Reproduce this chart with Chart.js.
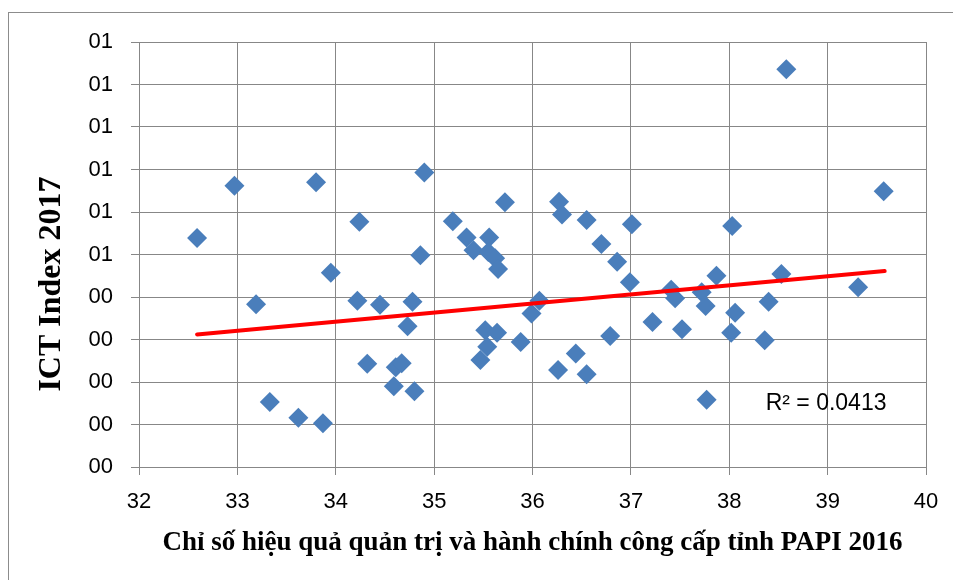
<!DOCTYPE html>
<html>
<head>
<meta charset="utf-8">
<script src="https://cdn.jsdelivr.net/npm/chart.js@4/dist/chart.umd.min.js"></script>
<style>
    body { margin: 0; background: #fff; }
    .frame {
        position: absolute; left: 8px; top: 12px; width: 1000px; height: 1000px;
        border-left: 1px solid #8c8c8c; border-top: 1px solid #8c8c8c;
    }
    #chart { position: absolute; left: 0; top: 0; }
</style>
</head>
<body>
<div class="frame"></div>
<canvas id="chart" width="953" height="580"></canvas>
<script>
// PAPI 2016 score per province (x)
const papi2016 = [
    32.59, 32.97, 33.19, 33.33, 33.62, 33.80, 33.87, 33.95, 34.22, 34.24,
    34.32, 34.45, 34.59, 34.61, 34.67, 34.73, 34.78, 34.80, 34.86, 34.90,
    35.19, 35.33, 35.40, 35.47, 35.54, 35.52, 35.64, 35.56, 35.55, 35.62,
    35.65, 35.72, 35.88, 35.99, 36.07, 36.26, 36.27, 36.30, 36.44, 36.55,
    36.55, 36.70, 36.79, 36.86, 36.99, 37.01, 37.22, 37.41, 37.45, 37.52,
    37.72, 37.76, 37.77, 37.87, 38.03, 38.02, 38.06, 38.36, 38.40, 38.53,
    38.58, 39.31, 39.57
];
// ICT Index 2017 per province (y)
const ict2017 = [
    0.539, 0.662, 0.383, 0.153, 0.116, 0.670, 0.103, 0.457, 0.391, 0.577,
    0.243, 0.382, 0.190, 0.235, 0.244, 0.331, 0.389, 0.178, 0.498, 0.693,
    0.578, 0.540, 0.510, 0.252, 0.283, 0.322, 0.316, 0.540, 0.506, 0.491,
    0.466, 0.623, 0.294, 0.361, 0.391, 0.228, 0.624, 0.594, 0.267, 0.581,
    0.218, 0.525, 0.308, 0.483, 0.435, 0.571, 0.341, 0.417, 0.397, 0.324,
    0.411, 0.379, 0.158, 0.450, 0.567, 0.316, 0.363, 0.298, 0.389, 0.454,
    0.936, 0.423, 0.649
];
// linear trendline ends as drawn
const trendX = [32.59, 39.58];
const trendY = [0.312, 0.461];
const rSquared = 'R² = 0.0413';

const yTickLabels = ['00', '00', '00', '00', '00', '01', '01', '01', '01', '01', '01'];

const points = papi2016.map((x, i) => ({ x: x, y: ict2017[i] }));
const trend = trendX.map((x, i) => ({ x: x, y: trendY[i] }));

const gridColor = '#878787';

// R² text next to the trendline + the y title (Excel centres it on the whole chart, not the axis)
const extraText = {
    id: 'extraText',
    afterDatasetsDraw(chart) {
        const ctx = chart.ctx;
        const xs = chart.scales.x, ys = chart.scales.y;
        ctx.save();
        ctx.font = '23px "Liberation Sans", Arial, sans-serif';
        ctx.fillStyle = '#000';
        ctx.textAlign = 'left';
        ctx.textBaseline = 'middle';
        ctx.fillText(rSquared, xs.getPixelForValue(38.37), ys.getPixelForValue(0.15));

        ctx.translate(52, 284);
        ctx.rotate(-Math.PI / 2);
        ctx.font = 'bold 32px "Liberation Serif", "Times New Roman", serif';
        ctx.textAlign = 'center';
        ctx.fillText('ICT Index 2017', 0, 0);
        ctx.restore();
    }
};

new Chart(document.getElementById('chart'), {
    type: 'scatter',
    data: {
        datasets: [
            {
                label: 'ICT',
                data: points,
                pointStyle: 'rectRot',
                pointRadius: 10,
                pointBorderWidth: 0,
                backgroundColor: '#4a7ebb',
                borderColor: '#4a7ebb',
                order: 2
            },
            {
                label: 'Trend',
                type: 'line',
                data: trend,
                borderColor: '#ff0000',
                borderWidth: 4,
                borderCapStyle: 'round',
                pointRadius: 0,
                fill: false,
                order: 1
            }
        ]
    },
    options: {
        responsive: false,
        animation: false,
        layout: { padding: { left: 0, top: 42, right: 27, bottom: 0 } },
        plugins: { legend: { display: false }, tooltip: { enabled: false } },
        scales: {
            x: {
                type: 'linear',
                min: 32, max: 40,
                afterFit: s => { s.height = 113; },
                ticks: {
                    stepSize: 1,
                    padding: 14,
                    color: '#000',
                    font: { family: '"Liberation Sans", Arial, sans-serif', size: 22 }
                },
                grid: { color: gridColor, tickLength: 8, lineWidth: 1 },
                border: { color: gridColor },
                title: {
                    display: true,
                    text: 'Chỉ số hiệu quả quản trị và hành chính công cấp tỉnh PAPI 2016',
                    color: '#000',
                    font: { family: '"Liberation Serif", "Times New Roman", serif', size: 27, weight: 'bold' },
                    padding: { top: 0, bottom: 21 }
                }
            },
            y: {
                type: 'linear',
                min: 0, max: 1,
                afterFit: s => { s.width = 139; },
                ticks: {
                    stepSize: 0.1,
                    padding: 18,
                    color: '#000',
                    font: { family: '"Liberation Sans", Arial, sans-serif', size: 22 },
                    callback: (v, i) => yTickLabels[i]
                },
                grid: { color: gridColor, tickLength: 8, lineWidth: 1 },
                border: { color: gridColor }
            }
        }
    },
    plugins: [extraText]
});
</script>
</body>
</html>
